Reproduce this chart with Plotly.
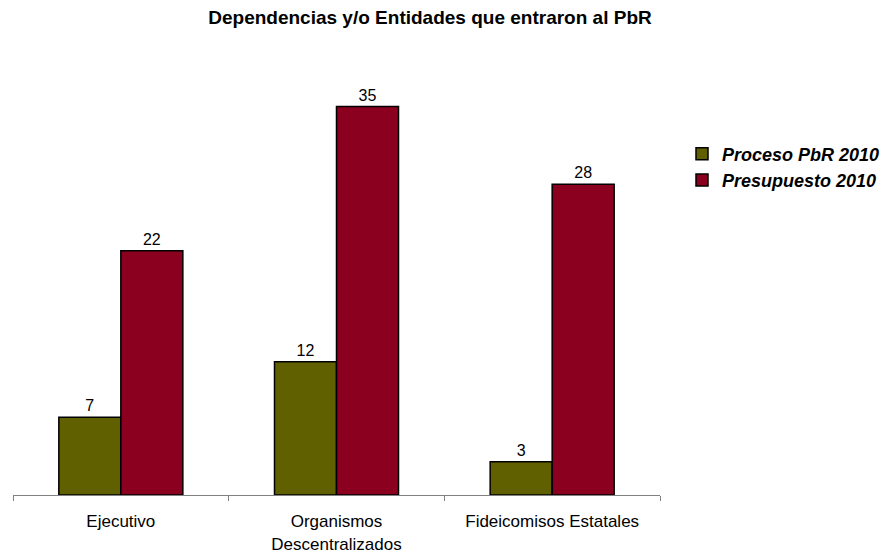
import plotly.graph_objects as go

categories = ["Ejecutivo", "Organismos<br>Descentralizados", "Fideicomisos Estatales"]
proceso = [7, 12, 3]
presupuesto = [22, 35, 28]
series_names = ["Proceso PbR 2010", "Presupuesto 2010"]
title_text = "Dependencias y/o Entidades que entraron al PbR"

FONT = "Liberation Sans, Arial, sans-serif"

fig = go.Figure()
fig.add_trace(go.Bar(
    x=categories, y=proceso, name="<b><i>" + series_names[0] + "</i></b>",
    marker=dict(color="#606000", line=dict(color="black", width=1.5)),
    text=proceso, textposition="outside", cliponaxis=False,
    textfont=dict(family=FONT, size=16, color="black"),
))
fig.add_trace(go.Bar(
    x=categories, y=presupuesto, name="<b><i>" + series_names[1] + "</i></b>",
    marker=dict(color="#8C001F", line=dict(color="black", width=1.5)),
    text=presupuesto, textposition="outside", cliponaxis=False,
    textfont=dict(family=FONT, size=16, color="black"),
))

fig.update_layout(
    width=894, height=553,
    margin=dict(l=5, r=242, t=43, b=66, autoexpand=False),
    paper_bgcolor="white", plot_bgcolor="white",
    barmode="group", bargap=0.425, bargroupgap=0,
    font=dict(family=FONT, size=17, color="black"),
    title=dict(text="<b>" + title_text + "</b>",
               xref="container", x=422/894, xanchor="center",
               yref="container", y=1 - 9/553, yanchor="middle",
               font=dict(size=19, color="black")),
    legend=dict(xref="container", x=674/894, xanchor="left",
                yref="container", y=1 - 159/553, yanchor="middle",
                font=dict(size=18, color="black"), itemwidth=30,
                bgcolor="rgba(0,0,0,0)"),
    showlegend=True,
)
fig.update_xaxes(showline=True, linecolor="#808080", linewidth=1,
                 ticks="outside", tickson="boundaries", ticklen=5, tickcolor="#808080",
                 tickfont=dict(size=17), ticklabelstandoff=11, showgrid=False,
                 automargin=False)
fig.update_yaxes(range=[0, 40], visible=False, showgrid=False, automargin=False)

fig.write_html("out.html")
